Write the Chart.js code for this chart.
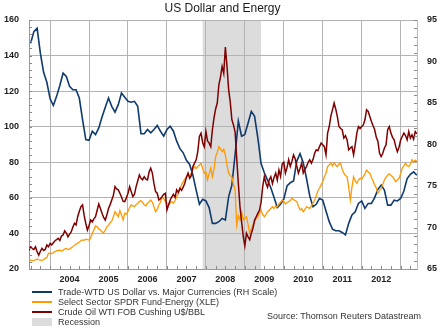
<!DOCTYPE html>
<html>
<head>
<meta charset="utf-8">
<title>US Dollar and Energy</title>
<script src="https://cdn.jsdelivr.net/npm/chart.js@4.4.1/dist/chart.umd.min.js"></script>
<style>
  html, body { margin: 0; padding: 0; background: #fff; }
  #wrap { position: relative; width: 445px; height: 335px; overflow: hidden;
          font-family: "Liberation Sans", Arial, sans-serif; }
  #chart { position: absolute; left: 0; top: 0; }
  #title { position: absolute; left: 0; top: 0; width: 445px; text-align: center;
           font-size: 12px; line-height: 16px; color: #1a1a1a; }
  #legend { position: absolute; left: 32px; top: 287px; font-size: 9px; color: #333; }
  .item { height: 10px; line-height: 10px; display: flex; align-items: center; white-space: nowrap; }
  .sw { width: 20px; margin-right: 6px; flex: none; }
  #source { position: absolute; left: 267px; top: 311px; font-size: 9px; line-height: 10px; color: #333; white-space: nowrap; }
</style>
</head>
<body>
<div id="wrap">
  <canvas id="chart" width="445" height="335"></canvas>
  <div id="title">US Dollar and Energy</div>
  <div id="legend"></div>
  <div id="source">Source: Thomson Reuters Datastream</div>
</div>
<script>
// ---- Tick labels -----------------------------------------------------------
const yearLabels = ['2004', '2005', '2006', '2007', '2008', '2009', '2010', '2011', '2012'];
const leftTicks = [20, 40, 60, 80, 100, 120, 140, 160];
const rightTicks = [65, 70, 75, 80, 85, 90, 95];

// Recession period (start month, end month)
const recession = ['2007-12', '2009-06'];

// ---- Semi-monthly series (1st and 16th of each month, 16 Jun 2003 - 1 Jun 2013)
// Select Sector SPDR Fund-Energy (XLE), US$
const xle = [
  25.4, 25.0, 24.6, 24.8, 25.2, 25.6, 25.2, 24.9, 25.0, 25.3, 26.0, 26.5, 28.8,                 // 2003
  28.9, 28.6, 29.3, 29.8, 30.2, 30.4, 30.6, 30.1, 30.6, 31.2, 31.6, 31.0,
  31.2, 31.9, 32.5, 33.2, 34.0, 34.5, 35.2, 35.9, 36.4, 36.2, 36.8, 36.5,                       // 2004
  36.3, 37.5, 40.1, 42.0, 44.2, 43.8, 42.5, 41.9, 40.8, 40.5, 41.8, 43.8,
  44.5, 46.0, 47.0, 49.4, 52.2, 51.0, 49.4, 52.8, 50.5, 47.6, 51.3, 50.8,                       // 2005
  52.5, 54.5, 56.0, 55.5, 55.0, 56.2, 57.0, 57.9, 58.5, 57.4, 56.0, 55.5,
  57.0, 57.8, 58.8, 57.5, 55.0, 52.2, 53.5, 56.0, 57.5, 60.6, 59.5, 58.0,                       // 2006
  57.0, 56.0, 57.2, 57.9, 57.0, 58.5, 60.6, 62.5, 65.0, 67.3, 69.0, 70.5,
  71.9, 73.0, 71.9, 74.0, 76.0, 77.6, 76.5, 77.6, 78.5, 79.5, 76.5, 73.9,                       // 2007
  74.5, 70.1, 73.5, 76.7, 71.9, 76.0, 83.2, 85.5, 88.8, 87.5, 86.0, 87.3,
  84.0, 78.5, 73.9, 72.5, 71.9, 67.5, 64.5, 44.5, 50.0, 47.6, 52.2, 47.6,                       // 2008
  48.5, 49.4, 45.0, 40.1, 42.5, 44.8, 46.5, 48.5, 49.5, 51.3, 53.2, 50.5,
  49.4, 50.5, 52.2, 53.0, 54.0, 55.0, 54.0, 55.5, 55.0, 56.5, 57.5, 58.8,                       // 2009
  58.0, 56.5, 57.2, 57.9, 58.5, 59.8, 59.0, 58.5, 57.9, 55.5, 53.2, 54.0,
  52.2, 53.5, 55.0, 54.5, 54.1, 55.5, 57.0, 58.8, 61.0, 64.0, 65.4, 67.3,                       // 2010
  69.0, 71.9, 74.0, 77.6, 78.5, 79.5, 78.0, 79.8, 78.5, 77.6, 79.0, 79.5,
  76.0, 73.9, 72.5, 71.9, 66.0, 58.8, 66.0, 71.9, 69.5, 68.2, 70.0, 71.0,                       // 2011
  70.5, 71.9, 73.5, 75.7, 74.5, 73.9, 71.5, 69.5, 67.3, 65.5, 62.6, 64.0,
  65.4, 67.5, 70.1, 71.5, 72.9, 73.5, 72.5, 71.9, 70.5, 69.1, 70.0, 71.0,                       // 2012
  73.5, 76.7, 78.0, 79.5, 78.0, 77.6, 79.0, 81.4, 80.0, 81.2, 80.4                              // 2013
];

// Crude Oil WTI FOB Cushing, US$/BBL
const wti = [
  30.6, 32.5, 31.5, 31.0, 32.5, 29.7, 27.8, 30.0, 31.6, 30.4, 31.0, 33.5, 32.5,                 // 2003
  34.4, 33.6, 34.8, 35.9, 36.5, 37.2, 36.0, 38.5, 39.1, 41.5, 40.2, 38.1,
  39.6, 40.8, 43.5, 45.7, 44.8, 49.4, 52.5, 55.0, 56.0, 50.0, 45.6, 41.9,                       // 2004
  44.5, 47.5, 46.5, 48.2, 49.4, 53.0, 56.5, 54.0, 51.3, 49.0, 47.5, 50.5,
  54.0, 56.2, 58.8, 61.5, 66.3, 65.0, 64.5, 62.6, 60.5, 58.0, 57.9, 60.0,                       // 2005
  62.6, 66.3, 63.5, 60.7, 62.0, 66.3, 69.5, 72.9, 71.0, 70.2, 71.9, 70.5,
  70.1, 74.5, 76.7, 73.9, 68.0, 63.5, 62.6, 58.8, 59.5, 60.7, 62.0, 62.6,                       // 2006
  53.2, 56.0, 58.8, 60.5, 62.0, 60.3, 64.5, 63.0, 65.4, 64.2, 66.0, 68.2,
  71.5, 73.9, 71.0, 72.5, 77.6, 79.5, 81.4, 86.0, 94.5, 96.4, 91.0, 88.8,                       // 2007
  97.3, 92.0, 90.8, 88.8, 98.3, 105.0, 110.0, 113.3, 123.6, 128.0, 133.9, 130.0,
  144.8, 134.0, 121.0, 114.0, 104.0, 101.0, 97.0, 82.0, 68.0, 55.0, 46.5, 38.5,                 // 2008
  33.0, 40.1, 38.1, 36.5, 40.1, 42.9, 47.5, 49.4, 51.3, 53.0, 57.5, 66.3,
  71.9, 68.2, 66.0, 70.1, 71.9, 68.0, 71.5, 73.9, 70.0, 75.7, 72.0, 79.0,                       // 2009
  80.0, 73.9, 77.0, 81.4, 77.6, 80.5, 84.2, 82.0, 78.0, 73.9, 76.5, 79.5,
  74.0, 76.0, 77.6, 80.0, 81.4, 79.5, 81.5, 85.1, 87.0, 86.5, 88.8, 90.8,                       // 2010
  89.8, 88.8, 84.2, 96.4, 100.1, 106.0, 109.5, 113.3, 110.0, 105.7, 100.1, 99.0,
  98.3, 93.6, 95.0, 92.6, 87.0, 88.0, 88.8, 84.2, 89.8, 96.4, 100.1, 99.0,                      // 2011
  100.1, 101.0, 103.9, 109.5, 108.6, 105.7, 102.9, 100.5, 98.3, 94.0, 91.7, 85.0,
  83.2, 85.1, 88.0, 89.8, 98.3, 100.1, 96.4, 94.0, 92.6, 88.8, 86.0, 88.5,                      // 2012
  92.5, 94.5, 96.4, 95.0, 92.6, 97.3, 93.6, 95.4, 93.0, 97.3, 96.0                              // 2013
];

// ---- Monthly series (1st of month, Jul 2003 - Jun 2013) ---------------------
// Trade-weighted US dollar vs. major currencies (right-hand scale)
const usdIndex = [
  92.2, 93.6, 94.0, 91.0, 88.7, 87.5,                                     // 2003 Jul-Dec
  85.5, 84.7, 85.8, 87.1, 88.6, 88.2, 87.0, 86.6, 86.6, 85.6, 83.0, 80.6, // 2004
  80.5, 81.6, 81.2, 82.0, 83.3, 84.5, 85.6, 84.6, 83.9, 84.8, 86.2, 85.7, // 2005
  85.2, 85.1, 85.2, 84.6, 81.3, 81.3, 81.8, 81.4, 81.8, 82.3, 81.6, 81.0, // 2006
  81.8, 82.2, 81.6, 80.4, 79.5, 79.0, 78.1, 77.6, 76.3, 74.5, 72.8, 73.4, // 2007
  73.2, 72.4, 70.5, 70.5, 70.7, 71.1, 70.9, 73.7, 75.1, 78.8, 82.8, 81.0, // 2008
  81.2, 82.6, 84.0, 83.4, 80.8, 77.7, 76.6, 75.7, 74.8, 73.6, 72.4, 72.8, // 2009
  73.4, 75.0, 75.4, 75.6, 78.0, 78.9, 77.8, 75.9, 73.8, 72.5, 72.8, 73.5, // 2010
  73.3, 72.0, 70.7, 69.8, 69.6, 69.6, 69.4, 69.1, 70.5, 71.5, 71.9, 72.9, // 2011
  73.2, 72.3, 72.9, 72.9, 73.6, 74.6, 75.1, 74.5, 72.7, 72.7, 73.3, 73.2, // 2012
  73.5, 74.4, 75.9, 76.4, 76.7, 76.3                                      // 2013 Jan-Jun
];

// ---- Calendars ---------------------------------------------------------------
function monthToYear(ym) {               // 'YYYY-MM' -> decimal year at the 1st
  const [y, m] = ym.split('-').map(Number);
  return y + (m - 1) / 12;
}
// 1st/16th calendar starting 16 Jun 2003
const semiMonthlyDates = xle.map((_, i) => 2003 + 5 / 12 + (i + 1) / 24);
// 1st-of-month calendar starting Jul 2003
const monthlyDates = usdIndex.map((_, i) => 2003.5 + i / 12);

const xMin = semiMonthlyDates[0];
const xMax = 2013.42;

const series = [
  { label: 'Trade-WTD US Dollar vs. Major Currencies (RH Scale)', color: '#0f3a6d',
    dates: monthlyDates, values: usdIndex, axis: 'y1', width: 1.6, order: 2 },
  { label: 'Select Sector SPDR Fund-Energy (XLE)', color: '#ff9900',
    dates: semiMonthlyDates, values: xle, axis: 'y', width: 1.3, order: 1 },
  { label: 'Crude Oil WTI FOB Cushing U$/BBL', color: '#7f0000',
    dates: semiMonthlyDates, values: wti, axis: 'y', width: 1.5, order: 0 }
];

// ---- Legend (HTML) -----------------------------------------------------------
const legendEl = document.getElementById('legend');
series.forEach(s => {
  const row = document.createElement('div');
  row.className = 'item';
  row.innerHTML = '<span class="sw" style="height:2px;background:' + s.color + '"></span><span></span>';
  row.lastChild.textContent = s.label;
  legendEl.appendChild(row);
});
{
  const row = document.createElement('div');
  row.className = 'item';
  row.innerHTML = '<span class="sw" style="height:8px;background:#dcdcdc"></span><span>Recession</span>';
  legendEl.appendChild(row);
}

// ---- Plugins -----------------------------------------------------------------
const recessionShade = {
  id: 'recessionShade',
  beforeDraw(chart) {
    const { ctx, chartArea: a, scales: { x } } = chart;
    const x0 = x.getPixelForValue(monthToYear(recession[0]));
    const x1 = x.getPixelForValue(monthToYear(recession[1]));
    ctx.save();
    ctx.fillStyle = '#dcdcdc';
    ctx.fillRect(x0, a.top, x1 - x0, a.bottom - a.top);
    ctx.restore();
  }
};

// short inward tick marks along the three axes
const minorTicks = {
  id: 'minorTicks',
  afterDraw(chart) {
    const { ctx, chartArea: a, scales: { x, y, y1 } } = chart;
    ctx.save();
    ctx.strokeStyle = '#8a8a8a';
    ctx.lineWidth = 1;
    ctx.beginPath();
    for (let v = Math.ceil(x.min * 4) / 4; v <= x.max; v += 0.25) {
      const px = Math.round(x.getPixelForValue(v)) + 0.5;
      ctx.moveTo(px, a.bottom); ctx.lineTo(px, a.bottom - 3);
    }
    for (let v = leftTicks[0]; v <= leftTicks[leftTicks.length - 1]; v += 4) {
      const py = Math.round(y.getPixelForValue(v)) + 0.5;
      ctx.moveTo(a.left, py); ctx.lineTo(a.left + 3, py);
    }
    for (let v = rightTicks[0]; v <= rightTicks[rightTicks.length - 1]; v += 1) {
      const py = Math.round(y1.getPixelForValue(v)) + 0.5;
      ctx.moveTo(a.right, py); ctx.lineTo(a.right - 3, py);
    }
    ctx.stroke();
    ctx.restore();
  }
};

// ---- Chart -------------------------------------------------------------------
Chart.defaults.font.family = '"Liberation Sans", Arial, sans-serif';
const gridColor = '#b3b3b3';
const tickFont = { size: 9, weight: 'bold' };
const boundaries = yearLabels.map(Number).concat([Number(yearLabels[yearLabels.length - 1]) + 1]);

new Chart(document.getElementById('chart'), {
  type: 'line',
  data: {
    datasets: series.map(s => ({
      label: s.label,
      data: s.dates.map((d, i) => ({ x: d, y: s.values[i] })),
      borderColor: s.color,
      borderWidth: s.width,
      pointRadius: 0,
      tension: 0,
      fill: false,
      yAxisID: s.axis,
      order: s.order
    }))
  },
  options: {
    responsive: false,
    animation: false,
    devicePixelRatio: 1,
    layout: { padding: { top: 20, left: 0, right: 0, bottom: 0 } },
    plugins: { legend: { display: false }, tooltip: { enabled: false }, title: { display: false } },
    scales: {
      x: {
        type: 'linear',
        min: xMin,
        max: xMax,
        afterBuildTicks(scale) {
          const vals = boundaries.concat(yearLabels.map(l => Number(l) + 0.5)).sort((a, b) => a - b);
          scale.ticks = vals.map(v => ({ value: v }));
        },
        afterFit(scale) { scale.height = 66; },
        ticks: {
          autoSkip: false, maxRotation: 0, padding: 5, color: '#222', font: tickFont,
          callback: v => Number.isInteger(v) ? '' : String(Math.floor(v))
        },
        grid: {
          drawTicks: false,
          color: c => (c.tick && Number.isInteger(c.tick.value)) ? gridColor : 'rgba(0,0,0,0)'
        },
        border: { color: '#999' }
      },
      y: {
        position: 'left',
        min: leftTicks[0],
        max: leftTicks[leftTicks.length - 1],
        afterBuildTicks(scale) { scale.ticks = leftTicks.map(v => ({ value: v })); },
        afterFit(scale) { scale.width = 29; },
        ticks: { padding: 10, color: '#222', font: tickFont },
        grid: { drawTicks: false, color: gridColor },
        border: { color: '#999' }
      },
      y1: {
        position: 'right',
        min: rightTicks[0],
        max: rightTicks[rightTicks.length - 1],
        afterBuildTicks(scale) { scale.ticks = rightTicks.map(v => ({ value: v })); },
        afterFit(scale) { scale.width = 28; },
        ticks: { padding: 10, color: '#222', font: tickFont },
        grid: { drawTicks: false, drawOnChartArea: false },
        border: { color: '#bbb' }
      }
    }
  },
  plugins: [recessionShade, minorTicks]
});
</script>
</body>
</html>
